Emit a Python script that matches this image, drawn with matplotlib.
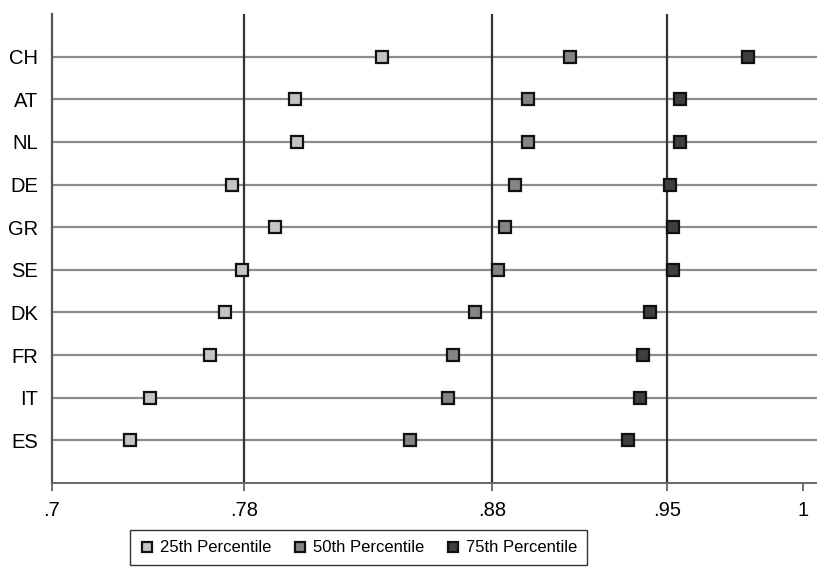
import matplotlib.pyplot as plt
import numpy as np

plt.rcParams['font.family'] = ['Liberation Sans', 'DejaVu Sans']

# data
countries = ["CH", "AT", "NL", "DE", "GR", "SE", "DK", "FR", "IT", "ES"]
p25 = [0.832, 0.797, 0.798, 0.772, 0.789, 0.776, 0.769, 0.763, 0.739, 0.731]
p50 = [0.907, 0.890, 0.890, 0.885, 0.881, 0.878, 0.869, 0.860, 0.858, 0.843]
p75 = [0.978, 0.951, 0.951, 0.947, 0.948, 0.948, 0.939, 0.936, 0.935, 0.930]

# overall quartiles (vertical lines), labelled rounded
quartiles = [0.7767, 0.8759, 0.9458]
xticks = [0.7] + quartiles + [1.0]
xtick_labels = [".7", ".78", ".88", ".95", "1"]

series = [("25th Percentile", p25, "#c4c4c4"),
          ("50th Percentile", p50, "#858585"),
          ("75th Percentile", p75, "#3f3f3f")]

fig = plt.figure(figsize=(8.17, 5.67), dpi=100)
ax = fig.add_axes([52 / 817, 84 / 567, 765 / 817, 469 / 567])

ys = np.arange(1, len(countries) + 1)

for y in ys:
    ax.axhline(y, color="#8c8c8c", lw=1.6, zorder=1)
for q in quartiles:
    ax.axvline(q, color="#333333", lw=1.6, zorder=2)

for name, vals, col in series:
    ax.plot(vals, ys, ls="none", marker="s", ms=9, mfc=col, mec="#111111",
            mew=1.6, label=name, zorder=3)

ax.set_xlim(0.7, 1.0056)
ax.set_ylim(len(countries) + 1, 0)
ax.set_yticks(ys)
ax.set_yticklabels(countries, fontsize=14.5)
ax.set_xticks(xticks)
ax.set_xticklabels(xtick_labels, fontsize=14.5)
ax.tick_params(axis="y", length=0, pad=10)
ax.tick_params(axis="x", length=6, width=1.2, color="#555555", pad=7)

for s in ["top", "right"]:
    ax.spines[s].set_visible(False)
ax.spines["left"].set_color("#555555")
ax.spines["left"].set_linewidth(1.6)
ax.spines["bottom"].set_color("#666666")
ax.spines["bottom"].set_linewidth(1.4)

leg = fig.legend(loc="lower center", bbox_to_anchor=(358.5 / 817, -0.012),
                 ncol=3, fontsize=12, frameon=True, fancybox=False,
                 edgecolor="black", handletextpad=0.3, columnspacing=1.3,
                 borderpad=0.6, handlelength=0.9, markerscale=0.85)
leg.get_frame().set_linewidth(1.0)

fig.savefig("out.png", dpi=100)
